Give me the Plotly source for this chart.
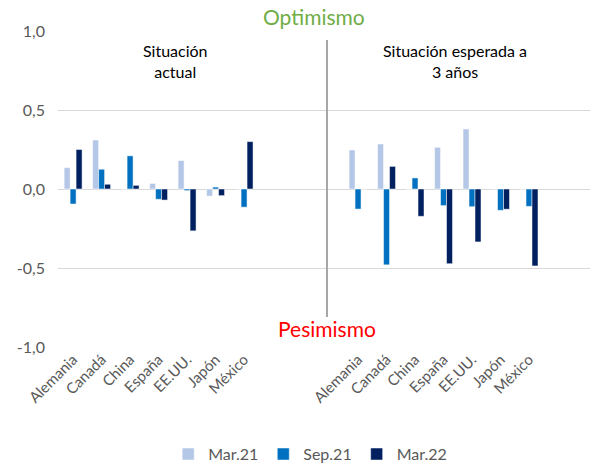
import plotly.graph_objects as go

categories = ["Alemania", "Canadá", "China", "España", "EE.UU.", "Japón", "México"]
series_names = ["Mar.21", "Sep.21", "Mar.22"]

# Situación actual
actual_mar21 = [0.135, 0.31, 0.0, 0.035, 0.18, -0.045, 0.0]
actual_sep21 = [-0.095, 0.125, 0.21, -0.065, -0.01, 0.012, -0.115]
actual_mar22 = [0.25, 0.03, 0.023, -0.07, -0.265, -0.042, 0.30]

# Situación esperada a 3 años
esperada_mar21 = [0.247, 0.285, 0.0, 0.264, 0.38, -0.005, 0.0]
esperada_sep21 = [-0.127, -0.48, 0.07, -0.105, -0.112, -0.135, -0.11]
esperada_mar22 = [0.0, 0.143, -0.173, -0.473, -0.335, -0.128, -0.487]

colors = ["#B4C7E7", "#0070C0", "#002060"]

left_pos = list(range(0, 7))
right_pos = list(range(10, 17))
xpos = left_pos + right_pos

fig = go.Figure()
for name, a, e, c in zip(series_names,
                         [actual_mar21, actual_sep21, actual_mar22],
                         [esperada_mar21, esperada_sep21, esperada_mar22],
                         colors):
    fig.add_trace(go.Bar(x=xpos, y=a + e, name=name,
                         marker=dict(color=c, line=dict(color="white", width=0.5))))

font_family = "Lato, 'Liberation Sans', sans-serif"
fig.update_layout(
    width=590, height=464,
    margin=dict(l=58, r=0, t=31, b=117, autoexpand=False),
    paper_bgcolor="white", plot_bgcolor="white",
    barmode="group", bargap=0.37, bargroupgap=0,
    font=dict(family=font_family, color="#595959"),
    showlegend=True,
    legend=dict(orientation="h", x=0.474, xanchor="center", y=-0.339, yanchor="middle",
                font=dict(size=16, color="#595959"), traceorder="normal", itemwidth=30),
    xaxis=dict(range=[-0.53, 18.14], tickmode="array", tickvals=xpos,
               ticktext=categories + categories, tickangle=-45,
               tickfont=dict(size=15, color="#595959"), showgrid=False,
               zeroline=False, showline=False, ticks="", automargin=False),
    yaxis=dict(range=[-1.0, 1.0], tickvals=[-1.0, -0.5, 0.0, 0.5, 1.0],
               ticktext=["-1,0", "-0,5", "0,0", "0,5", "1,0"],
               tickfont=dict(size=16, color="#595959"),
               showgrid=True, gridcolor="#D9D9D9", gridwidth=1,
               zeroline=True, zerolinecolor="#D9D9D9", zerolinewidth=1,
               ticks="", ticklen=0, ticklabelstandoff=12, automargin=False),
)

fig.add_shape(type="line", xref="x", yref="y", x0=8.91, x1=8.91, y0=0.943, y1=-0.81,
              line=dict(color="#A6A6A6", width=2))

fig.add_annotation(x=8.46, y=1.047, xref="x", yref="paper", text="Optimismo", showarrow=False,
                   font=dict(size=21, color="#70AD47"), yanchor="middle")
fig.add_annotation(x=8.91, y=-0.88, xref="x", yref="y", text="Pesimismo", showarrow=False,
                   font=dict(size=21, color="#FF0000"), yanchor="middle")
fig.add_annotation(x=3.6, y=0.81, xref="x", yref="y", text="Situación<br>actual",
                   showarrow=False, font=dict(size=16, color="#000000"), yanchor="middle")
fig.add_annotation(x=13.4, y=0.81, xref="x", yref="y", text="Situación esperada a<br>3 años",
                   showarrow=False, font=dict(size=16, color="#000000"), yanchor="middle")

fig.write_html("out.html", config={"displayModeBar": False},
               post_script="document.body.style.margin='0';document.body.style.overflow='hidden';")
